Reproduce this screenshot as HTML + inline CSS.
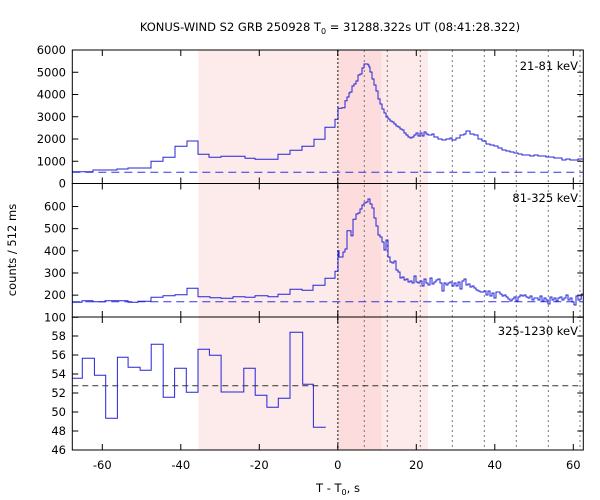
<!DOCTYPE html>
<html><head><meta charset="utf-8"><style>
html,body{margin:0;padding:0;background:#fff}
svg{display:block;font-family:"DejaVu Sans","Liberation Sans",sans-serif}
</style></head><body>
<svg id="s" width="600" height="500" viewBox="0 0 600 500" xmlns="http://www.w3.org/2000/svg">
<rect width="600" height="500" fill="#fff"/>
<rect x="198.5" y="50" width="229.5" height="400" fill="#fdeaea"/>
<rect x="337.8" y="50" width="43.5" height="400" fill="#fcdcdd"/>
<g id="vl" stroke="#777" stroke-width="1" stroke-dasharray="2,3"></g>
<line x1="337.8" y1="50" x2="337.8" y2="450" stroke="#666" stroke-width="1.6" stroke-dasharray="2,2"/>
<g stroke="#3333dd" stroke-width="1" stroke-dasharray="8,5">
<line x1="72.3" y1="172.3" x2="583.3" y2="172.3"/>
<line x1="72.3" y1="301.7" x2="583.3" y2="301.7"/>
</g>
<line x1="72.3" y1="385.7" x2="583.3" y2="385.7" stroke="#333" stroke-width="1" stroke-dasharray="6,4"/>
<g id="data" fill="none" stroke="#2424d8" stroke-width="1"></g>
<g id="ax" stroke="#000" stroke-width="1" fill="none"></g>
<g id="tx" font-size="11.5" fill="#000"></g>
<text x="330" y="31" font-size="11.5" text-anchor="middle">KONUS-WIND S2 GRB 250928 T<tspan font-size="8" dy="3">0</tspan><tspan dy="-3"> = 31288.322s UT (08:41:28.322)</tspan></text>
<text x="578" y="70" font-size="11.5" text-anchor="end">21-81 keV</text>
<text x="578" y="202" font-size="11.5" text-anchor="end">81-325 keV</text>
<text x="578" y="335" font-size="11.5" text-anchor="end">325-1230 keV</text>
<text x="338" y="492" font-size="11.5" text-anchor="middle">T - T<tspan font-size="8" dy="3">0</tspan><tspan dy="-3">, s</tspan></text>
<text transform="translate(16,250) rotate(-90)" font-size="11.5" text-anchor="middle">counts / 512 ms</text>
</svg>
<script>
var NS="http://www.w3.org/2000/svg";
function el(p,t,a,txt){var e=document.createElementNS(NS,t);for(var k in a)e.setAttribute(k,a[k]);if(txt!=null)e.textContent=txt;document.getElementById(p).appendChild(e);return e;}
[364.3,387.3,420.3,452.3,484.3,516.3,548.3,580].forEach(function(x){el("vl","line",{x1:x,y1:50,x2:x,y2:450});});
function steps(xs,ys){var d="M"+xs[0]+" "+ys[0];for(var i=1;i<xs.length;i++){d+=" H"+xs[i];if(i<ys.length)d+=" V"+ys[i];}return d;}
function ptsteps(p){var d="";for(var i=0;i<p.length;i++){d+=(i?" H"+p[i][0]+" V":"M"+p[i][0]+" ")+p[i][1];}return d+" H"+(p[p.length-1][0]+2);}
var p1=[[72.3,171.7],[93,170],[117,169],[128,168],[151,161.3],[163,157.3],[175,146.3],[187,141],[198,154.3],[209,157.3],[221,156.3],[245,158.3],[255,159.3],[278,154.3],[290,150.3],[302,146.3],[314,139.3],[325,127.3],[335,119.3],[338,108.3],[342,107.7],[345,100.7],[347,97],[349,93],
[350,92],[352,86],[354,84],[356,81],[358,75],[360,74],[362,68],[364,64],[368,65],[369,67],[370,72],[372,79],[374,85],[376,91],[378,99],[380,104],[382,109],[384,113],[386,117],[388,119],[390,121],[392,122],[394,124],[396,126],[398,127],[400,129],[402,130],[404,133],[406,135],[408,137],[410,138],[412,137],[414,135],[416,133],[418,136],[420,133],[422,136],[424,132],[426,134],[428,135],[432,134],[434,137],[438,139],[442,140],[446,139],[450,138],[452,140],[456,138],[460,135],[464,134],[466,131],[470,134],[474,135],[478,139],[482,141],[486,144],[490,145],[494,146],[498,148],[502,150],[506,151],[510,152],[514,153],[518,154],[522,155],[526,155],[530,156],[534,155],[538,156],[542,156],[546,157],[550,157],[554,158],[558,158],[562,160],[566,159],[570,160],[574,160],[578,159],[581.3,159]];
var p2=[[72.3,302.3],[82,300.7],[93,301.7],[105,300.7],[128,302.3],[138,301.3],[151,297.3],[163,295.7],[175,294.7],[187,288.3],[198,296.7],[210,297.7],[221,298.3],[233,296.7],[245,297.3],[255,295.7],[268,296.7],[278,294.3],[290,289.3],[302,290.3],[313,285.3],[325,278.3],[335,271.3],[338,250.7],[339,257],[343,252],[345,249],[347,230.7],[351,235.7],[353,219.3],
[356,214],[358,213],[360,209],[362,205],[364,203],[366,202],[368,199],[370,204],[372,208],[374,218],[376,226],[378,235],[380,237],[382,242],[384,250],[386,240],[388,257],[390,262],[392,263],[394,261],[396,270],[398,272],[400,278],[402,277],[404,280],[406,279],[408,282],[410,281],[412,283],[414,276],[416,282],[418,283],[420,281],[422,286],[424,279],[426,283],[428,285],[430,278],[432,284],[434,282],[436,280],[438,279],[440,283],[442,291],[444,283],[446,285],[448,283],[450,282],[452,286],[454,283],[456,286],[458,282],[460,289],[462,281],[464,279],[466,285],[468,284],[470,287],[472,286],[474,288],[476,290],[478,291],[480,292],[484,291],[486,295],[488,291],[490,296],[492,293],[494,298],[496,292],[500,294],[502,296],[504,295],[506,297],[508,299],[510,301],[512,299],[514,297],[516,301],[518,297],[520,295],[522,296],[524,295],[526,297],[528,298],[530,296],[532,300],[534,298],[536,298],[538,300],[540,296],[542,301],[544,298],[546,300],[548,304],[550,297],[552,300],[554,298],[556,301],[558,298],[560,297],[562,300],[564,298],[566,295],[568,300],[570,298],[572,302],[574,305],[576,296],[578,300],[580,299],[581.3,294]];
el("data","path",{d:ptsteps(p1)});
el("data","path",{d:ptsteps(p2)});
var x3=[72.3,82.3,94.4,105.7,117.4,128.1,140.1,151.2,163.2,174.6,186.3,198.0,209.4,221.1,243.8,255.2,266.9,278.3,290.0,302.7,313.4,325.8];
var y3=[378.3,358.3,375.3,418.3,357.3,367.3,370.3,344.3,397.3,368.3,392.3,349.3,355.3,392,368.3,395.3,407.3,398.3,332.3,384.3,427.3];
el("data","path",{d:steps(x3,y3)});
var L=72.3,R=583.3;
[[50,183.5],[183.5,317],[317,450]].forEach(function(b){el("ax","rect",{x:L,y:b[0],width:R-L,height:b[1]-b[0]});
 for(var v=-60;v<=60;v+=20){var x=337.8+v*3.925;el("ax","line",{x1:x,y1:b[0],x2:x,y2:b[0]+6});el("ax","line",{x1:x,y1:b[1],x2:x,y2:b[1]-6});}});
function yt(y,lab){el("ax","line",{x1:L,y1:y,x2:L+6,y2:y});el("ax","line",{x1:R,y1:y,x2:R-6,y2:y});if(lab!=null)el("tx","text",{x:66,y:y+4,"text-anchor":"end"},lab);}
for(var v=0;v<=6000;v+=1000)yt(183.5-v*0.02225,v);
for(var v=100;v<=600;v+=100)yt(317.3-(v-100)*0.2216,v);
for(var v=46;v<=58;v+=2)yt(450-(v-46)*9.5,v);
for(var v=-60;v<=60;v+=20)el("tx","text",{x:337.8+v*3.925,y:469,"text-anchor":"middle"},v);
</script>
</body></html>
